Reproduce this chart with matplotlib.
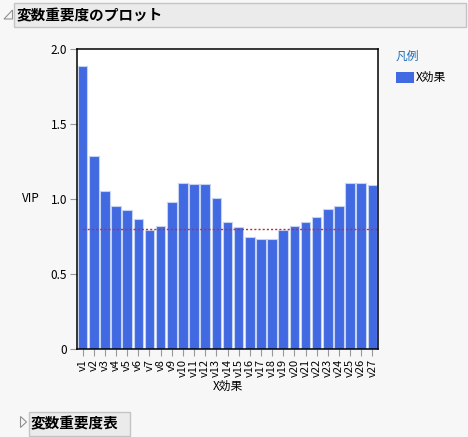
import matplotlib.pyplot as plt
from matplotlib.patches import Rectangle, Polygon
import numpy as np

plt.rcParams['font.family'] = ['Noto Sans CJK JP', 'DejaVu Sans']

# datos
variables = ['v%d' % i for i in range(1, 28)]
vip = [1.89, 1.29, 1.055, 0.953, 0.924, 0.867, 0.793, 0.818, 0.98,
       1.104, 1.10, 1.098, 1.007, 0.847, 0.816, 0.747, 0.733, 0.733,
       0.791, 0.82, 0.844, 0.88, 0.931, 0.951, 1.104, 1.107, 1.093]
umbral = 0.8
yticks = [0, 0.5, 1.0, 1.5, 2.0]

W, H = 468, 437
bg = '#f7f7f7'
fig = plt.figure(figsize=(W / 100, H / 100), dpi=100, facecolor=bg)


def fx(px):
    return px / W


def fy(py):
    return 1 - py / H


# cabecera
fig.patches.append(Rectangle((fx(14), fy(27)), fx(452), 24 / H, transform=fig.transFigure,
                             facecolor='#ebebeb', edgecolor='#c4c4c4', lw=1))
fig.patches.append(Polygon([[fx(12.5), fy(10)], [fx(12.5), fy(19)], [fx(4), fy(19)]], closed=True,
                           transform=fig.transFigure, facecolor='none', edgecolor='#909090', lw=0.8))
fig.text(fx(17), fy(15.5), '変数重要度のプロット', fontsize=10.5, fontweight='bold', va='center', ha='left')

# pie
fig.patches.append(Rectangle((fx(28.5), fy(435.5)), fx(101), 24 / H, transform=fig.transFigure,
                             facecolor='#ebebeb', edgecolor='#c4c4c4', lw=1))
fig.patches.append(Polygon([[fx(20.5), fy(416.5)], [fx(26.5), fy(422)], [fx(20.5), fy(427.5)]], closed=True,
                           transform=fig.transFigure, facecolor='none', edgecolor='#909090', lw=0.8))
fig.text(fx(31), fy(423), '変数重要度表', fontsize=10.5, fontweight='bold', va='center', ha='left')

# gráfico de barras
ax = fig.add_axes([fx(77), fy(349), fx(301), 300 / H])
ax.set_facecolor('white')
x = np.arange(len(variables))
ax.bar(x, vip, width=0.86, color='#4169e1', edgecolor='#c5d3f3', linewidth=0.8, label='X効果')
ax.plot([0, len(variables) - 0.5], [umbral, umbral], color='#c8283a', lw=1.0, linestyle=(0, (1.5, 1.5)))

ax.set_xlim(-0.5, len(variables) - 0.5)
ax.set_ylim(0, 2.0)
ax.set_yticks(yticks)
ax.set_yticklabels(['%.1f' % t if t else '0' for t in yticks], fontsize=8.5)
ax.set_xticks(x)
ax.set_xticklabels(variables, rotation=90, fontsize=8)
ax.tick_params(axis='both', color='#999999', length=5, width=0.8, pad=2)
for s in ax.spines.values():
    s.set_linewidth(1.1)
    s.set_color('black')

ax.set_xlabel('X効果', fontsize=8.5, labelpad=2)
ax.set_ylabel('VIP', fontsize=8.5, rotation=0, ha='right', va='center')
ax.yaxis.set_label_coords(-(77 - 40) / 301, (349 - 198) / 300)

# leyenda
fig.text(fx(396), fy(56), '凡例', fontsize=8.5, color='#1f6cb5', va='center', ha='left')
fig.patches.append(Rectangle((fx(396), fy(83)), fx(18), 11 / H, transform=fig.transFigure,
                             facecolor='#4169e1', edgecolor='none'))
fig.text(fx(416), fy(77.5), 'X効果', fontsize=8.5, va='center', ha='left')

fig.savefig('out.png', dpi=100, facecolor=bg)
